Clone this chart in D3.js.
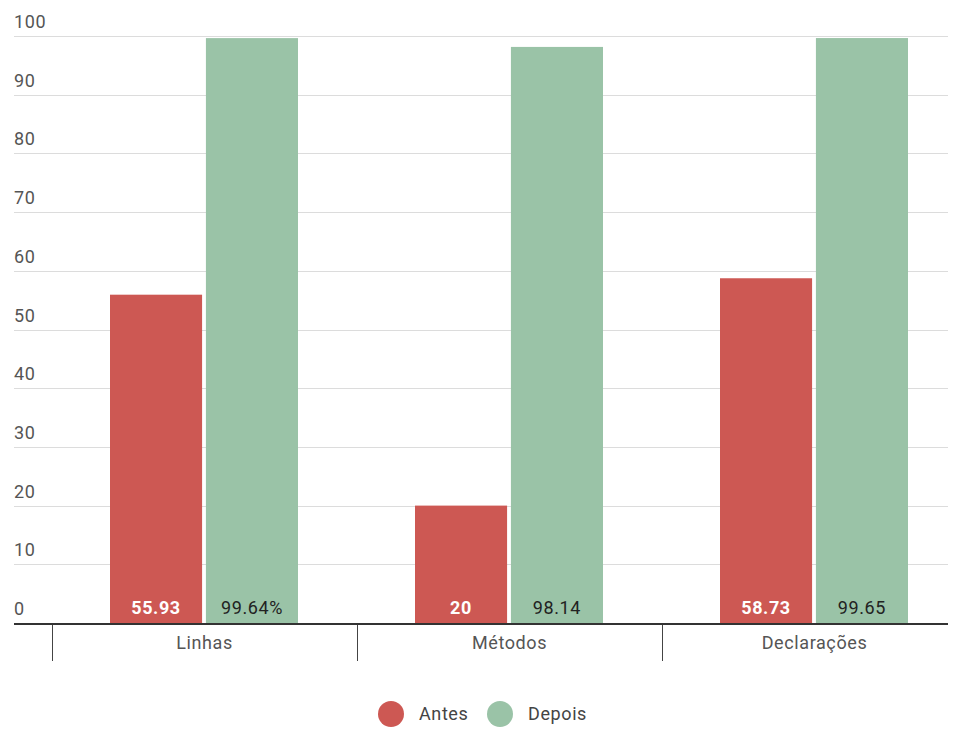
<!DOCTYPE html>
<html>
<head>
    <meta charset="utf-8">
    <style>
        body{ margin: 0; background: #fff; }
        svg text{ font-family: Roboto, "Noto Sans", sans-serif; letter-spacing: 0.6px; }
        .grid line{ stroke: #dcdcdc; stroke-width: 1px; shape-rendering: crispEdges; }
        .ylab{ fill: #555; font-size: 18px; }
        .xlab{ fill: #555; font-size: 18px; }
    </style>
</head>
<body>
    <svg class="vis"></svg>

    <script src="https://cdnjs.cloudflare.com/ajax/libs/d3/7.8.5/d3.min.js"></script>
    <script>
        var categories = ["Linhas", "Métodos", "Declarações"];
        var seriesNames = ["Antes", "Depois"];
        var antes = [55.93, 20, 58.73];
        var depois = [99.64, 98.14, 99.65];
        var depoisLabels = ["99.64%", "98.14", "99.65"];
        var yTicks = [0, 10, 20, 30, 40, 50, 60, 70, 80, 90, 100];
        var colors = ["#cd5853", "#9ac3a7"];

        var width = 959, height = 731;
        var vis = d3.select("svg.vis").attr("width", width).attr("height", height);

        var y = d3.scaleLinear().domain([0, 100]).range([623, 36]);
        var x = d3.scaleBand().domain(categories).range([52, 967]);
        var inner = d3.scaleBand().domain(seriesNames).range([58, 246]).paddingInner(0.04);

        // grid
        var grid = vis.append("g").attr("class", "grid");
        grid.selectAll("line").data(yTicks.slice(1)).enter().append("line")
            .attr("x1", 14).attr("x2", 948)
            .attr("y1", d => Math.round(y(d)) + 0.5).attr("y2", d => Math.round(y(d)) + 0.5);

        vis.append("g").selectAll("text").data(yTicks).enter().append("text")
            .attr("class", "ylab")
            .attr("x", 14).attr("y", d => y(d) - 8)
            .text(d => d);

        // bars
        var groups = vis.append("g").selectAll("g").data(categories).enter().append("g")
            .attr("transform", d => "translate(" + x(d) + ",0)");

        groups.each(function(cat, i){
            var g = d3.select(this);
            var vals = [antes[i], depois[i]];
            var labs = [String(antes[i]), depoisLabels[i]];
            seriesNames.forEach(function(s, j){
                g.append("rect")
                    .attr("x", inner(s)).attr("width", inner.bandwidth())
                    .attr("y", y(vals[j])).attr("height", y(0) - y(vals[j]))
                    .attr("fill", colors[j]);
                g.append("text")
                    .attr("x", inner(s) + inner.bandwidth() / 2).attr("y", y(0) - 9)
                    .attr("text-anchor", "middle")
                    .attr("font-size", "18px")
                    .attr("font-weight", j === 0 ? "bold" : "normal")
                    .attr("fill", j === 0 ? "#fff" : "#222")
                    .text(labs[j]);
            });
        });

        // x axis
        vis.append("line").attr("x1", 14).attr("x2", 948)
            .attr("y1", y(0) + 1).attr("y2", y(0) + 1)
            .attr("stroke", "#333").attr("stroke-width", 2);

        vis.append("g").selectAll("line").data(categories).enter().append("line")
            .attr("x1", d => x(d) + 0.5).attr("x2", d => x(d) + 0.5)
            .attr("y1", y(0) + 2).attr("y2", 661)
            .attr("stroke", "#444").attr("stroke-width", 1);

        vis.append("g").selectAll("text").data(categories).enter().append("text")
            .attr("class", "xlab")
            .attr("x", d => x(d) + x.bandwidth() / 2).attr("y", 649)
            .attr("text-anchor", "middle")
            .text(d => d);

        // legend
        var legendX = [391, 500];
        var leg = vis.append("g").selectAll("g").data(seriesNames).enter().append("g")
            .attr("transform", (d, i) => "translate(" + legendX[i] + ",714)");
        leg.append("circle").attr("r", 13).attr("fill", (d, i) => colors[i]);
        leg.append("text").attr("x", 28).attr("y", 6)
            .attr("font-size", "18px").attr("fill", "#444")
            .text(d => d);
    </script>
</body>
</html>
